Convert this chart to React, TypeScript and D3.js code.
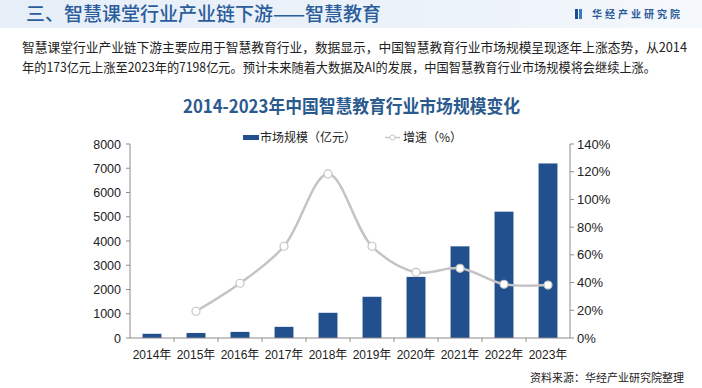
import React from "react";
import * as d3 from "d3";

const years = ["2014年", "2015年", "2016年", "2017年", "2018年", "2019年", "2020年", "2021年", "2022年", "2023年"];
const marketSize = [173, 208, 252, 460, 1040, 1700, 2520, 3780, 5210, 7198];
const growth: (number | null)[] = [null, 19.3, 39.5, 66.2, 118.4, 66.2, 47.4, 50.3, 38.8, 38.2];
const leftTicks = [0, 1000, 2000, 3000, 4000, 5000, 6000, 7000, 8000];
const rightTicks = [0, 20, 40, 60, 80, 100, 120, 140];

const W = 702, H = 388;
const M = { left: 130, right: 570, top: 144, bottom: 338 };
const FONT = "'Liberation Sans', Arial, 'Noto Sans CJK SC', sans-serif";
const CJK = "'Noto Sans CJK SC', 'Noto Sans', sans-serif";

export default function App() {
  const x = d3.scaleBand<string>().domain(years).range([M.left, M.right]).paddingInner(0.57).paddingOuter(0.285);
  const band = d3.scaleBand<string>().domain(years).range([M.left, M.right]);
  const yL = d3.scaleLinear().domain([0, 8000]).range([M.bottom, M.top]);
  const yR = d3.scaleLinear().domain([0, 140]).range([M.bottom, M.top]);
  const pts = years.map((y, i) => ({ x: band(y)! + band.bandwidth() / 2, v: growth[i] })).filter(p => p.v !== null) as { x: number; v: number }[];
  const line = d3.line<{ x: number; v: number }>().x(p => p.x).y(p => yR(p.v)).curve(d3.curveCatmullRom.alpha(0.5));
  const axisColor = "#8c8c8c";
  return (
    <svg width={W} height={H} style={{ position: "absolute", left: 0, top: 0, background: "#fff" }}>
      <defs>
        <linearGradient id="hdr" x1="0" x2="1" y1="0" y2="0">
          <stop offset="0" stopColor="#e6eef8" />
          <stop offset="0.7" stopColor="#edf3fa" />
          <stop offset="1" stopColor="#f6f9fc" />
        </linearGradient>
      </defs>
      <rect x={0} y={0} width={W} height={28} fill="url(#hdr)" />
      <text x={26} y={21} fontFamily={CJK} fontSize={19} fontWeight={500} fill="#2b5d9c">三、智慧课堂行业产业链下游——智慧教育</text>
      <rect x={575} y={9} width={3} height={10} fill="#1f4e8c" />
      <rect x={579} y={9} width={3} height={10} fill="#3a7cc4" />
      <text x={592} y={18} fontFamily={CJK} fontSize={10} fontWeight={700} fill="#2b5d9c" letterSpacing={3}>华经产业研究院</text>
      <text x={22} y={52} fontFamily={CJK} fontSize={13} fill="#222" textLength={665} lengthAdjust="spacingAndGlyphs">智慧课堂行业产业链下游主要应用于智慧教育行业，数据显示，中国智慧教育行业市场规模呈现逐年上涨态势，从2014</text>
      <text x={22} y={72} fontFamily={CJK} fontSize={13} fill="#222" textLength={634} lengthAdjust="spacingAndGlyphs">年的173亿元上涨至2023年的7198亿元。预计未来随着大数据及AI的发展，中国智慧教育行业市场规模将会继续上涨。</text>
      <text x={183} y={113} fontFamily={CJK} fontSize={18} fontWeight={700} fill="#2a5a8e" textLength={337} lengthAdjust="spacingAndGlyphs">2014-2023年中国智慧教育行业市场规模变化</text>
      {/* legend */}
      <rect x={243} y={135} width={16} height={5} fill="#22508f" />
      <text x={260} y={142} fontFamily={CJK} fontSize={12} fill="#222">市场规模（亿元）</text>
      <line x1={385} x2={400} y1={137.5} y2={137.5} stroke="#c4c4c4" strokeWidth={1.5} />
      <circle cx={392.5} cy={137.5} r={2.5} fill="#fff" stroke="#c4c4c4" strokeWidth={1} />
      <text x={403} y={142} fontFamily={CJK} fontSize={12} fill="#222">增速（%）</text>
      {/* bars */}
      {years.map((y, i) => (
        <rect key={y} x={x(y)} y={yL(marketSize[i])} width={x.bandwidth()} height={M.bottom - yL(marketSize[i])} fill="#22508f" />
      ))}
      {/* axes */}
      <line x1={M.left} x2={M.left} y1={M.top} y2={M.bottom} stroke={axisColor} />
      <line x1={M.right} x2={M.right} y1={M.top} y2={M.bottom} stroke={axisColor} />
      <line x1={M.left} x2={M.right} y1={M.bottom} y2={M.bottom} stroke={axisColor} />
      {leftTicks.map(t => (
        <g key={t}>
          <line x1={M.left - 4} x2={M.left} y1={yL(t)} y2={yL(t)} stroke={axisColor} />
          <text x={121} y={yL(t) + 4.5} textAnchor="end" fontFamily={FONT} fontSize={12.5} fill="#222">{t}</text>
        </g>
      ))}
      {rightTicks.map(t => (
        <g key={t}>
          <line x1={M.right} x2={M.right + 4} y1={yR(t)} y2={yR(t)} stroke={axisColor} />
          <text x={577} y={yR(t) + 4.5} textAnchor="start" fontFamily={FONT} fontSize={13} fill="#222">{t}%</text>
        </g>
      ))}
      {years.map((y, i) => (
        <g key={y}>
          {i > 0 && <line x1={band(y)} x2={band(y)} y1={M.bottom} y2={M.bottom + 4} stroke={axisColor} />}
          <text x={band(y)! + band.bandwidth() / 2} y={359} textAnchor="middle" fontFamily={FONT} fontSize={12} fill="#222">{y}</text>
        </g>
      ))}
      {/* growth line */}
      <path d={line(pts) || ""} fill="none" stroke="#c4c4c4" strokeWidth={2.5} />
      {pts.map((p, i) => (
        <circle key={i} cx={p.x} cy={yR(p.v)} r={4} fill="#fff" stroke="#c4c4c4" strokeWidth={1.2} />
      ))}
      <text x={684} y={382} textAnchor="end" fontFamily={CJK} fontSize={11} fill="#222">资料来源：华经产业研究院整理</text>
    </svg>
  );
}
